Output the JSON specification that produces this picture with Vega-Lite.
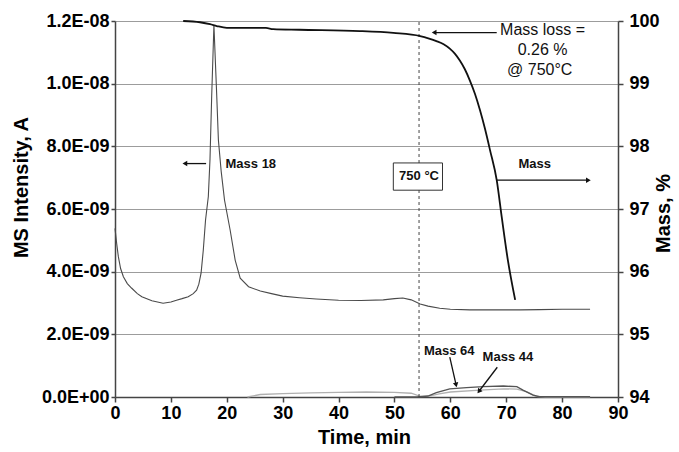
{
  "$schema": "https://vega.github.io/schema/vega-lite/v6.json",
  "width": 503,
  "height": 376,
  "autosize": {"type": "none"},
  "padding": {"left": 115, "top": 21, "right": 61, "bottom": 55},
  "background": "white",
  "config": {
    "view": {"stroke": null},
    "font": "Liberation Sans",
    "axis": {
      "labelFont": "Liberation Sans",
      "labelFontWeight": "bold",
      "labelFontSize": 18,
      "labelColor": "#000000",
      "titleFont": "Liberation Sans",
      "titleFontWeight": "bold",
      "titleFontSize": 20,
      "titleColor": "#000000",
      "domainColor": "#444444",
      "domainWidth": 1.5,
      "tickColor": "#444444",
      "tickWidth": 1.5,
      "tickSize": 5,
      "grid": false
    }
  },
  "datasets": {
    "mass18": [
      {"t": 0, "v": 5.38e-9}, {"t": 0.3, "v": 4.9e-9}, {"t": 0.6, "v": 4.48e-9}, {"t": 1, "v": 4.1e-9},
      {"t": 1.5, "v": 3.84e-9}, {"t": 2.2, "v": 3.62e-9}, {"t": 3, "v": 3.47e-9}, {"t": 4, "v": 3.3e-9},
      {"t": 4.8, "v": 3.2e-9}, {"t": 6.6, "v": 3.07e-9}, {"t": 8.6, "v": 2.99e-9}, {"t": 10, "v": 3.03e-9},
      {"t": 11, "v": 3.09e-9}, {"t": 12, "v": 3.14e-9}, {"t": 13.1, "v": 3.2e-9}, {"t": 14, "v": 3.3e-9},
      {"t": 14.6, "v": 3.41e-9}, {"t": 15, "v": 3.6e-9}, {"t": 15.4, "v": 3.95e-9}, {"t": 15.8, "v": 4.69e-9},
      {"t": 16.2, "v": 5.65e-9}, {"t": 16.7, "v": 6.4e-9}, {"t": 17, "v": 7.6e-9}, {"t": 17.3, "v": 9.6e-9},
      {"t": 17.7, "v": 1.187e-8}, {"t": 18.2, "v": 9.63e-9}, {"t": 18.5, "v": 8.2e-9}, {"t": 19, "v": 7.2e-9},
      {"t": 19.6, "v": 6.28e-9}, {"t": 20.6, "v": 5.33e-9}, {"t": 21.5, "v": 4.37e-9}, {"t": 22.4, "v": 3.79e-9},
      {"t": 23.9, "v": 3.52e-9}, {"t": 26, "v": 3.38e-9}, {"t": 28, "v": 3.3e-9}, {"t": 30, "v": 3.22e-9},
      {"t": 33, "v": 3.17e-9}, {"t": 36, "v": 3.13e-9}, {"t": 40, "v": 3.09e-9}, {"t": 44, "v": 3.08e-9},
      {"t": 48, "v": 3.1e-9}, {"t": 50, "v": 3.14e-9}, {"t": 51.5, "v": 3.16e-9}, {"t": 53, "v": 3.1e-9},
      {"t": 54.6, "v": 2.97e-9}, {"t": 56, "v": 2.9e-9}, {"t": 58.1, "v": 2.83e-9}, {"t": 60, "v": 2.8e-9},
      {"t": 63.5, "v": 2.78e-9}, {"t": 68, "v": 2.78e-9}, {"t": 72.5, "v": 2.78e-9}, {"t": 76, "v": 2.79e-9},
      {"t": 80, "v": 2.8e-9}, {"t": 85, "v": 2.8e-9}
    ],
    "mass64": [
      {"t": 50, "v": 0}, {"t": 54, "v": 0}, {"t": 56, "v": 3e-11}, {"t": 57.5, "v": 1.4e-10},
      {"t": 59.9, "v": 2.6e-10}, {"t": 62.9, "v": 3.0e-10}, {"t": 65.9, "v": 3.3e-10}, {"t": 69.5, "v": 3.5e-10},
      {"t": 71.9, "v": 3.3e-10}, {"t": 73, "v": 2.2e-10}, {"t": 74.8, "v": 6e-11}, {"t": 76, "v": 1e-11},
      {"t": 85, "v": 1e-11}
    ],
    "mass44": [
      {"t": 23.7, "v": 0}, {"t": 26, "v": 8e-11}, {"t": 30, "v": 1.1e-10}, {"t": 35, "v": 1.3e-10},
      {"t": 40, "v": 1.5e-10}, {"t": 45, "v": 1.6e-10}, {"t": 50, "v": 1.5e-10}, {"t": 53, "v": 1.2e-10},
      {"t": 54.5, "v": 3e-11}, {"t": 56, "v": 2e-11}, {"t": 58, "v": 1e-10}, {"t": 60, "v": 1.6e-10},
      {"t": 65.3, "v": 2.2e-10}, {"t": 69.5, "v": 2.6e-10}, {"t": 71.9, "v": 2.5e-10}, {"t": 73.6, "v": 1.7e-10},
      {"t": 75.4, "v": 2e-11}, {"t": 77, "v": 0}, {"t": 85, "v": 0}
    ],
    "mass": [
      {"t": 12.2, "m": 100}, {"t": 15.2, "m": 99.98}, {"t": 17, "m": 99.95}, {"t": 18.2, "m": 99.92},
      {"t": 20, "m": 99.89}, {"t": 27, "m": 99.89}, {"t": 28.3, "m": 99.87}, {"t": 33, "m": 99.86},
      {"t": 43.8, "m": 99.84}, {"t": 49.8, "m": 99.81}, {"t": 54.6, "m": 99.76}, {"t": 56.2, "m": 99.72},
      {"t": 57.5, "m": 99.68}, {"t": 58.8, "m": 99.63}, {"t": 59.9, "m": 99.56}, {"t": 60.8, "m": 99.48},
      {"t": 61.7, "m": 99.37}, {"t": 62.6, "m": 99.23}, {"t": 63.5, "m": 99.05}, {"t": 64.4, "m": 98.84},
      {"t": 65.3, "m": 98.58}, {"t": 66.2, "m": 98.28}, {"t": 67.1, "m": 97.94}, {"t": 68.3, "m": 97.46},
      {"t": 69.2, "m": 96.87}, {"t": 70.3, "m": 96.18}, {"t": 71.6, "m": 95.55}
    ],
    "marker": [{"t": 54.4, "v": 0, "v2": 1.2e-8}],
    "box": [{"t": 49.8, "t2": 58.6, "v": 6.6e-9, "v2": 7.47e-9}],
    "boldNotes": [
      {"text": "Mass 18", "t": 24.3, "v": 7.45e-9},
      {"text": "Mass", "t": 75.1, "v": 7.45e-9},
      {"text": "750 °C", "t": 54.4, "v": 7.05e-9},
      {"text": "Mass 64", "t": 59.8, "v": 1.48e-9},
      {"text": "Mass 44", "t": 70.3, "v": 1.27e-9}
    ],
    "plainNotes": [
      {"text": "Mass loss =", "t": 76.5, "v": 1.17e-8},
      {"text": "0.26 %", "t": 76.5, "v": 1.107e-8},
      {"text": "@ 750°C", "t": 76.0, "v": 1.043e-8}
    ],
    "arrows": [
      {"arrow": "Mass 18", "t": 16.3, "v": 7.45e-9, "t2": 12.5, "v2": 7.45e-9},
      {"arrow": "Mass loss", "t": 68.3, "v": 1.163e-8, "t2": 57.1, "v2": 1.163e-8},
      {"arrow": "Mass", "t": 68.3, "v": 6.92e-9, "t2": 84.7, "v2": 6.92e-9},
      {"arrow": "Mass 64", "t": 59.9, "v": 1.27e-9, "t2": 61.0, "v2": 4.1e-10},
      {"arrow": "Mass 44", "t": 68.4, "v": 9.5e-10, "t2": 65.2, "v2": 2e-10}
    ]
  },
  "layer": [
    {
      "layer": [
        {
          "data": {"name": "mass44"},
          "mark": {"type": "line", "color": "#b0b0b0", "strokeWidth": 1.3},
          "encoding": {
            "x": {
              "field": "t", "type": "quantitative", "title": "Time, min",
              "scale": {"domain": [0, 90], "nice": false, "zero": false},
              "axis": {"values": [0, 10, 20, 30, 40, 50, 60, 70, 80, 90], "labelPadding": 2, "tickSize": 5,
                       "titleX": 249, "titleY": 40, "titleBaseline": "middle", "labelFlush": false}
            },
            "y": {
              "field": "v", "type": "quantitative", "title": "MS Intensity, A",
              "scale": {"domain": [0, 1.2e-8], "nice": false},
              "axis": {
                "orient": "left",
                "values": [0, 2e-9, 4e-9, 6e-9, 8e-9, 1e-8, 1.2e-8],
                "labelExpr": "datum.value == 0 ? '0.0E+00' : (datum.value < 9.9e-9 ? format(datum.value * 1e9, '.1f') + 'E-09' : format(datum.value * 1e8, '.1f') + 'E-08')",
                "grid": true, "gridColor": "#9c9c9c", "gridWidth": 1.2,
                "labelPadding": 2, "tickSize": 4, "labelFlush": false,
                "titleAngle": -90, "titleX": -94, "titleY": 166, "titleBaseline": "middle"
              }
            }
          }
        },
        {
          "data": {"name": "mass64"},
          "mark": {"type": "line", "color": "#555555", "strokeWidth": 1.4},
          "encoding": {
            "x": {"field": "t", "type": "quantitative"},
            "y": {"field": "v", "type": "quantitative"}
          }
        },
        {
          "data": {"name": "mass18"},
          "mark": {"type": "line", "color": "#4a4a4a", "strokeWidth": 1.1},
          "encoding": {
            "x": {"field": "t", "type": "quantitative"},
            "y": {"field": "v", "type": "quantitative"}
          }
        },
        {
          "data": {"name": "marker"},
          "mark": {"type": "rule", "color": "#444444", "strokeWidth": 1, "strokeDash": [3, 3]},
          "encoding": {
            "x": {"field": "t", "type": "quantitative"},
            "y": {"field": "v", "type": "quantitative"},
            "y2": {"field": "v2"}
          }
        },
        {
          "data": {"name": "box"},
          "mark": {"type": "rect", "fill": "white", "stroke": "#333333", "strokeWidth": 1},
          "encoding": {
            "x": {"field": "t", "type": "quantitative"},
            "x2": {"field": "t2"},
            "y": {"field": "v", "type": "quantitative"},
            "y2": {"field": "v2"}
          }
        },
        {
          "data": {"name": "boldNotes"},
          "mark": {"type": "text", "font": "Liberation Sans", "fontWeight": "bold", "fontSize": 13, "color": "#111111", "align": "center", "baseline": "middle"},
          "encoding": {
            "x": {"field": "t", "type": "quantitative"},
            "y": {"field": "v", "type": "quantitative"},
            "text": {"field": "text"}
          }
        },
        {
          "data": {"name": "plainNotes"},
          "mark": {"type": "text", "font": "Liberation Sans", "fontSize": 16, "color": "#111111", "align": "center", "baseline": "middle"},
          "encoding": {
            "x": {"field": "t", "type": "quantitative"},
            "y": {"field": "v", "type": "quantitative"},
            "text": {"field": "text"}
          }
        },
        {
          "data": {"name": "arrows"},
          "mark": {"type": "rule", "color": "#111111", "strokeWidth": 1.3},
          "encoding": {
            "x": {"field": "t", "type": "quantitative"},
            "y": {"field": "v", "type": "quantitative"},
            "x2": {"field": "t2"},
            "y2": {"field": "v2"}
          }
        },
        {
          "data": {"name": "arrows"},
          "transform": [{"filter": "datum.arrow == 'Mass 18' || datum.arrow == 'Mass loss'"}],
          "mark": {"type": "point", "shape": "triangle-left", "filled": true, "color": "#111111", "size": 30, "opacity": 1},
          "encoding": {
            "x": {"field": "t2", "type": "quantitative"},
            "y": {"field": "v2", "type": "quantitative"}
          }
        },
        {
          "data": {"name": "arrows"},
          "transform": [{"filter": "datum.arrow == 'Mass'"}],
          "mark": {"type": "point", "shape": "triangle-right", "filled": true, "color": "#111111", "size": 30, "opacity": 1},
          "encoding": {
            "x": {"field": "t2", "type": "quantitative"},
            "y": {"field": "v2", "type": "quantitative"}
          }
        },
        {
          "data": {"name": "arrows"},
          "transform": [{"filter": "datum.arrow == 'Mass 64'"}],
          "mark": {"type": "point", "shape": "triangle", "angle": 167.5, "filled": true, "color": "#111111", "size": 30, "opacity": 1},
          "encoding": {
            "x": {"field": "t2", "type": "quantitative"},
            "y": {"field": "v2", "type": "quantitative"}
          }
        },
        {
          "data": {"name": "arrows"},
          "transform": [{"filter": "datum.arrow == 'Mass 44'"}],
          "mark": {"type": "point", "shape": "triangle", "angle": 217.6, "filled": true, "color": "#111111", "size": 30, "opacity": 1},
          "encoding": {
            "x": {"field": "t2", "type": "quantitative"},
            "y": {"field": "v2", "type": "quantitative"}
          }
        }
      ]
    },
    {
      "data": {"name": "mass"},
      "mark": {"type": "line", "color": "#111111", "strokeWidth": 1.8, "interpolate": "monotone"},
      "encoding": {
        "x": {"field": "t", "type": "quantitative"},
        "y": {
          "field": "m", "type": "quantitative", "title": "Mass, %",
          "scale": {"domain": [94, 100], "nice": false, "zero": false},
          "axis": {
            "orient": "right",
            "values": [94, 95, 96, 97, 98, 99, 100],
            "format": "d",
            "grid": false,
            "labelPadding": 6, "tickSize": 5, "labelFlush": false,
            "titleAngle": -90, "titleX": 45, "titleY": 192, "titleBaseline": "middle"
          }
        }
      }
    }
  ],
  "resolve": {"scale": {"y": "independent"}}
}
